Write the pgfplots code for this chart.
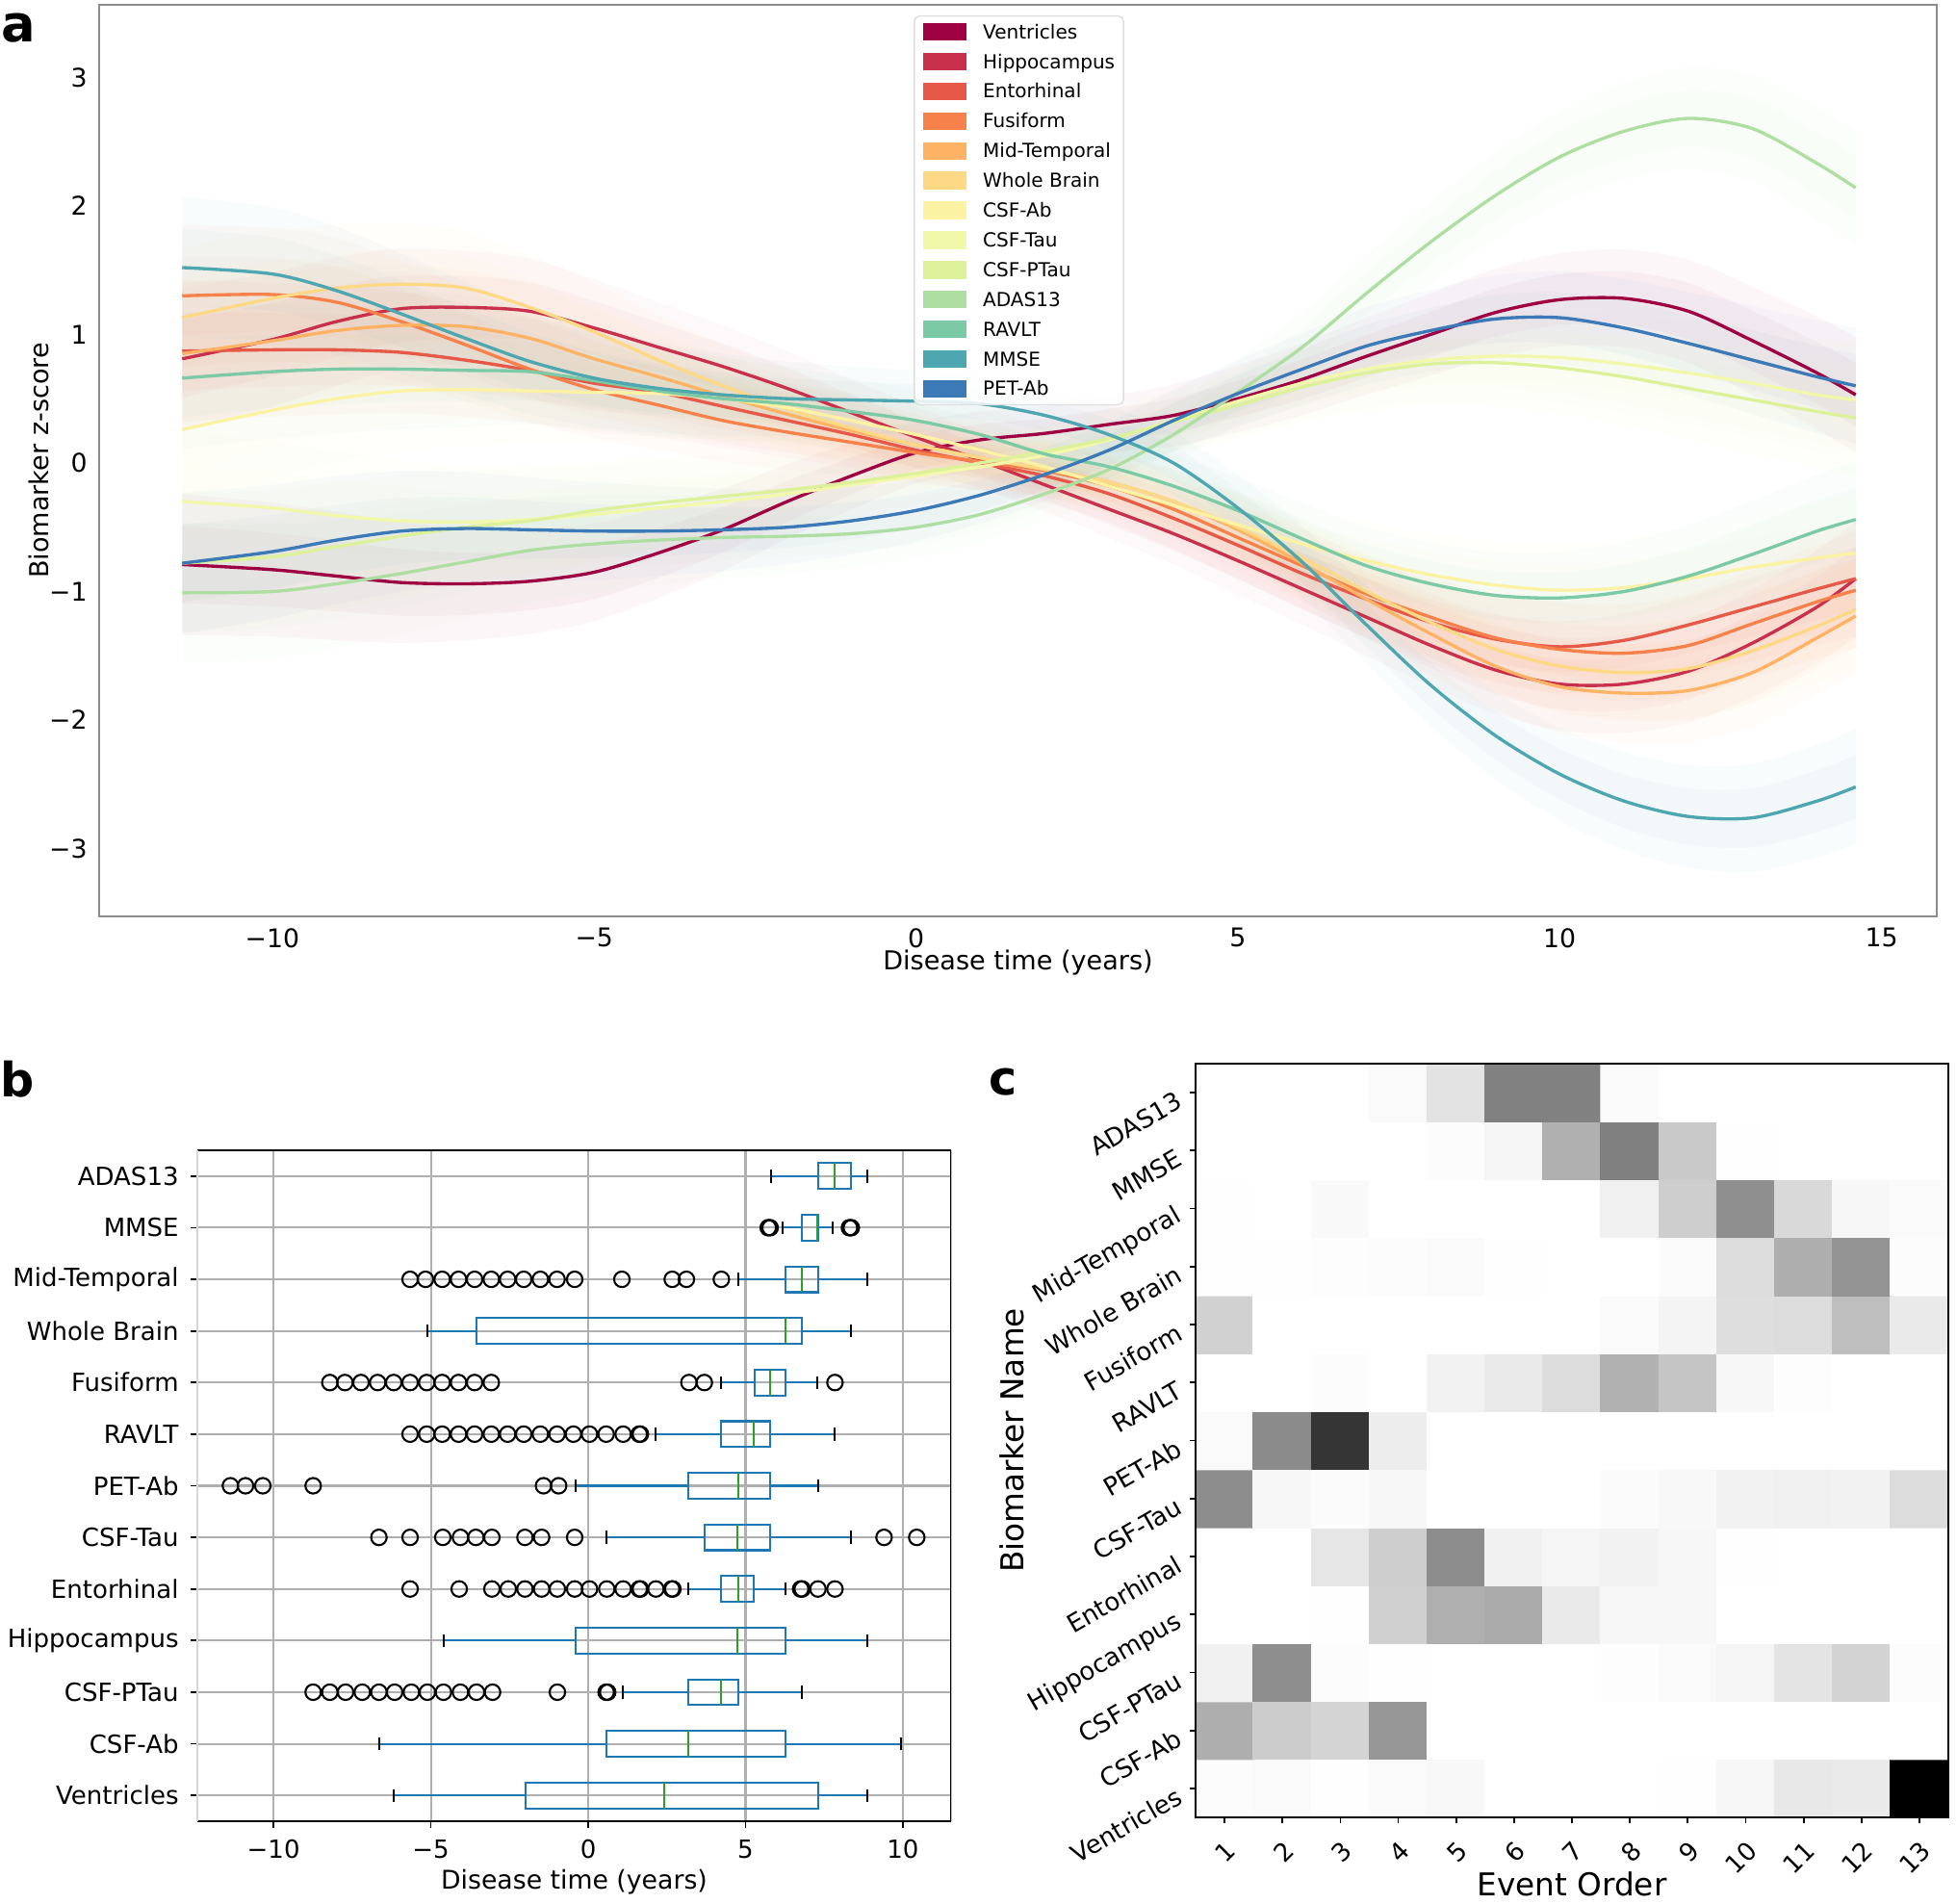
\documentclass[border=0pt]{standalone}
\usepackage{fontspec}
\setmainfont{DejaVu Sans}
\usepackage{pgfplots}
\pgfplotsset{compat=1.18}
\usepackage{pgfplotstable}
\usepgfplotslibrary{fillbetween,statistics}

\definecolor{cVen}{HTML}{9E0142}
\definecolor{cHip}{HTML}{C8304C}
\definecolor{cEnt}{HTML}{E65848}
\definecolor{cFus}{HTML}{F6814A}
\definecolor{cMid}{HTML}{FDB264}
\definecolor{cWhb}{HTML}{FED985}
\definecolor{cCab}{HTML}{FBF2A4}
\definecolor{cTau}{HTML}{F2F8AA}
\definecolor{cPta}{HTML}{DDF19A}
\definecolor{cAda}{HTML}{AFDEA3}
\definecolor{cRav}{HTML}{7BCAA5}
\definecolor{cMms}{HTML}{4EA6B0}
\definecolor{cPet}{HTML}{3C79B7}
\definecolor{bpblue}{HTML}{1F77B4}
\definecolor{bpgreen}{HTML}{2CA02C}
\definecolor{gridgray}{HTML}{B0B0B0}

\pgfplotstableread{
x w ven hip ent fus mid whb cab ctau cptau adas rav mmse pet
-11.4 0.55 -0.79 0.81 0.87 1.30 0.85 1.13 0.26 -0.30 -0.78 -1.01 0.66 1.52 -0.78
-10 0.52 -0.83 0.96 0.88 1.31 0.95 1.28 0.41 -0.35 -0.73 -1.00 0.71 1.47 -0.69
-9 0.50 -0.88 1.10 0.88 1.25 1.03 1.36 0.50 -0.41 -0.65 -0.94 0.73 1.34 -0.60
-8 0.47 -0.93 1.20 0.86 1.10 1.07 1.39 0.56 -0.45 -0.57 -0.86 0.73 1.16 -0.53
-7 0.44 -0.94 1.21 0.80 0.92 1.06 1.36 0.57 -0.46 -0.50 -0.77 0.72 0.97 -0.51
-6 0.41 -0.92 1.18 0.72 0.73 0.97 1.21 0.56 -0.44 -0.45 -0.68 0.71 0.79 -0.52
-5 0.38 -0.85 1.05 0.62 0.57 0.81 1.02 0.55 -0.40 -0.37 -0.63 0.64 0.66 -0.53
-4 0.35 -0.70 0.90 0.55 0.45 0.67 0.80 0.54 -0.35 -0.31 -0.60 0.56 0.58 -0.53
-3 0.32 -0.52 0.75 0.44 0.33 0.52 0.60 0.50 -0.30 -0.26 -0.58 0.50 0.53 -0.52
-2 0.29 -0.30 0.58 0.33 0.24 0.38 0.42 0.43 -0.24 -0.21 -0.57 0.46 0.50 -0.50
-1 0.26 -0.10 0.39 0.22 0.16 0.25 0.27 0.33 -0.17 -0.15 -0.55 0.40 0.49 -0.45
0 0.24 0.08 0.20 0.10 0.08 0.14 0.14 0.22 -0.10 -0.08 -0.50 0.33 0.48 -0.37
1 0.22 0.18 0.02 0.00 0.01 0.04 0.04 0.10 -0.03 0.00 -0.40 0.22 0.46 -0.25
2 0.21 0.23 -0.17 -0.10 -0.06 -0.05 -0.05 -0.03 0.06 0.09 -0.24 0.07 0.37 -0.09
3 0.22 0.30 -0.36 -0.24 -0.18 -0.15 -0.15 -0.18 0.18 0.19 -0.05 -0.03 0.22 0.10
4 0.24 0.37 -0.55 -0.43 -0.36 -0.30 -0.30 -0.33 0.33 0.32 0.22 -0.18 0.00 0.33
5 0.26 0.50 -0.76 -0.64 -0.58 -0.52 -0.50 -0.48 0.48 0.45 0.55 -0.37 -0.35 0.54
6 0.28 0.65 -0.98 -0.86 -0.80 -0.78 -0.74 -0.63 0.62 0.59 0.90 -0.59 -0.77 0.73
7 0.30 0.83 -1.20 -1.06 -1.02 -1.06 -1.00 -0.76 0.73 0.70 1.32 -0.80 -1.26 0.91
8 0.32 1.00 -1.42 -1.24 -1.20 -1.33 -1.24 -0.87 0.80 0.77 1.72 -0.94 -1.73 1.03
9 0.34 1.17 -1.61 -1.37 -1.36 -1.58 -1.45 -0.95 0.83 0.78 2.08 -1.03 -2.12 1.12
10 0.36 1.27 -1.72 -1.43 -1.45 -1.74 -1.58 -0.99 0.82 0.74 2.38 -1.05 -2.42 1.13
11 0.38 1.28 -1.72 -1.38 -1.48 -1.79 -1.63 -0.97 0.77 0.67 2.58 -1.00 -2.63 1.05
12 0.40 1.18 -1.62 -1.26 -1.42 -1.77 -1.60 -0.90 0.70 0.58 2.68 -0.88 -2.75 0.93
13 0.42 0.95 -1.40 -1.12 -1.25 -1.63 -1.46 -0.81 0.62 0.49 2.60 -0.71 -2.76 0.80
14 0.44 0.70 -1.12 -0.98 -1.08 -1.36 -1.27 -0.74 0.53 0.40 2.33 -0.53 -2.63 0.67
14.6 0.45 0.53 -0.90 -0.90 -0.99 -1.19 -1.14 -0.70 0.49 0.35 2.14 -0.44 -2.52 0.60
}\tA

% faint spread of the posterior samples: an outer and an inner band per biomarker
\newcommand{\band}[2]{%
  \addplot[draw=none, smooth, name path=lo#1, forget plot] table[x=x, y expr=\thisrow{#1}-\thisrow{w}] {\tA};
  \addplot[draw=none, smooth, name path=hi#1, forget plot] table[x=x, y expr=\thisrow{#1}+\thisrow{w}] {\tA};
  \addplot[fill=#2, fill opacity=0.035, draw=none, forget plot] fill between[of=lo#1 and hi#1];
  \addplot[draw=none, smooth, name path=li#1, forget plot] table[x=x, y expr=\thisrow{#1}-0.55*\thisrow{w}] {\tA};
  \addplot[draw=none, smooth, name path=ui#1, forget plot] table[x=x, y expr=\thisrow{#1}+0.55*\thisrow{w}] {\tA};
  \addplot[fill=#2, fill opacity=0.04, draw=none, forget plot] fill between[of=li#1 and ui#1];
}
\newcommand{\meanline}[3]{%
  \addplot[#2, line width=0.95pt, smooth] table[x=x, y=#1] {\tA};
  \addlegendentry{#3}
}
\newcommand{\bp}[6]{%
  \addplot[bpblue, boxplot prepared={draw position=#1, lower whisker=#2, lower quartile=#3, median=#4, upper quartile=#5, upper whisker=#6}] coordinates {};
}

\begin{document}
\begin{tikzpicture}

% ---------------- panel a ----------------
\begin{axis}[
  at={(10.3mm,102.5mm)}, anchor=south west,
  scale only axis, width=190.9mm, height=94.7mm,
  xmin=-12.69, xmax=15.86, ymin=-3.527, ymax=3.564,
  xtick={-10,-5,0,5,10,15}, xticklabels={−10,−5,0,5,10,15},
  ytick={-3,-2,-1,0,1,2,3}, yticklabels={−3,−2,−1,0,1,2,3},
  major tick length=0pt,
  axis line style={draw=black!45, line width=0.5pt},
  tick label style={font=\fontsize{7.6}{9}\selectfont},
  xlabel={Disease time (years)}, ylabel={Biomarker z-score},
  every axis x label/.style={at={(axis description cs:0.5,-0.0504)}, anchor=center, font=\fontsize{7.7}{9}\selectfont},
  every axis y label/.style={at={(axis description cs:-0.033,0.5)}, anchor=center, rotate=90, font=\fontsize{7.7}{9}\selectfont},
  legend cell align=left,
  legend image code/.code={\fill[#1, fill opacity=1, sharp corners] (0mm,-0.75mm) rectangle (4.2mm,0.75mm);},
  legend style={
    at={(0.4432,0.9884)}, anchor=north west,
    draw={rgb,255:red,222;green,222;blue,222}, rounded corners=1.5pt,
    fill=white, fill opacity=0.85, text opacity=1,
    font=\fontsize{5.7}{6.8}\selectfont,
    inner xsep=0.9mm, inner ysep=0.45mm,
    row sep=0.69mm,
    nodes={inner sep=0pt, text height=1.9mm, text depth=0.5mm},
    /tikz/every odd column/.append style={column sep=1.7mm},
  },
]
\band{ven}{cVen}
\band{hip}{cHip}
\band{ent}{cEnt}
\band{fus}{cFus}
\band{mid}{cMid}
\band{whb}{cWhb}
\band{cab}{cCab}
\band{ctau}{cTau}
\band{cptau}{cPta}
\band{adas}{cAda}
\band{rav}{cRav}
\band{mmse}{cMms}
\band{pet}{cPet}
\meanline{ven}{cVen}{Ventricles}
\meanline{hip}{cHip}{Hippocampus}
\meanline{ent}{cEnt}{Entorhinal}
\meanline{fus}{cFus}{Fusiform}
\meanline{mid}{cMid}{Mid-Temporal}
\meanline{whb}{cWhb}{Whole Brain}
\meanline{cab}{cCab}{CSF-Ab}
\meanline{ctau}{cTau}{CSF-Tau}
\meanline{cptau}{cPta}{CSF-PTau}
\meanline{adas}{cAda}{ADAS13}
\meanline{rav}{cRav}{RAVLT}
\meanline{mmse}{cMms}{MMSE}
\meanline{pet}{cPet}{PET-Ab}
\end{axis}

% ---------------- panel b ----------------
\begin{axis}[
  at={(20.5mm,8.5mm)}, anchor=south west,
  scale only axis, width=78.3mm, height=69.7mm,
  xmin=-12.42, xmax=11.53, ymin=0.5, ymax=13.5,
  xtick={-10,-5,0,5,10}, xticklabels={−10,−5,0,5,10},
  ytick={1,2,...,13},
  yticklabels={Ventricles,CSF-Ab,CSF-PTau,Hippocampus,Entorhinal,CSF-Tau,PET-Ab,RAVLT,Fusiform,Whole Brain,Mid-Temporal,MMSE,ADAS13},
  xtick pos=bottom, ytick pos=left,
  tick align=outside, major tick length=0.7mm,
  tick style={black, line width=0.5pt},
  xmajorgrids, ymajorgrids,
  grid style={draw=gridgray, line width=0.6pt},
  separate axis lines,
  x axis line style={black, line width=0.7pt},
  y axis line style={draw={rgb,255:red,215;green,215;blue,215}, line width=0.5pt},
  tick label style={font=\fontsize{7.4}{9}\selectfont},
  xlabel={Disease time (years)},
  every axis x label/.style={at={(axis description cs:0.5,-0.0904)}, anchor=center, font=\fontsize{7.6}{9}\selectfont},
  boxplot/draw direction=x,
  boxplot/box extend=0.5,
  boxplot/whisker extend=0.25,
  boxplot/every box/.style={draw=bpblue, line width=0.6pt},
  boxplot/every median/.style={draw=bpgreen, line width=0.6pt},
  boxplot/every whisker/.style={draw=bpblue, line width=0.6pt},
  boxplot/draw/lower whisker/.code={%
    \draw[/pgfplots/boxplot/every whisker/.try]
      (boxplot box cs:\pgfplotsboxplotvalue{lower whisker},0.5) --
      (boxplot box cs:\pgfplotsboxplotvalue{lower quartile},0.5);
    \draw[black, line width=0.6pt]
      (boxplot whisker cs:\pgfplotsboxplotvalue{lower whisker},0) --
      (boxplot whisker cs:\pgfplotsboxplotvalue{lower whisker},1);
  },
  boxplot/draw/upper whisker/.code={%
    \draw[/pgfplots/boxplot/every whisker/.try]
      (boxplot box cs:\pgfplotsboxplotvalue{upper whisker},0.5) --
      (boxplot box cs:\pgfplotsboxplotvalue{upper quartile},0.5);
    \draw[black, line width=0.6pt]
      (boxplot whisker cs:\pgfplotsboxplotvalue{upper whisker},0) --
      (boxplot whisker cs:\pgfplotsboxplotvalue{upper whisker},1);
  },
]
\bp{1}{-6.18}{-1.99}{2.42}{7.32}{8.88}
\bp{2}{-6.65}{0.59}{3.18}{6.26}{9.93}
\bp{3}{1.11}{3.18}{4.23}{4.76}{6.79}
\bp{4}{-4.60}{-0.41}{4.74}{6.26}{8.88}
\bp{5}{3.18}{4.23}{4.76}{5.27}{6.26}
\bp{6}{0.59}{3.71}{4.74}{5.79}{8.35}
\bp{7}{-0.41}{3.18}{4.76}{5.79}{7.30}
\bp{8}{2.15}{4.23}{5.27}{5.79}{7.82}
\bp{9}{4.23}{5.29}{5.79}{6.26}{7.28}
\bp{10}{-5.11}{-3.55}{6.26}{6.79}{8.35}
\bp{11}{4.78}{6.26}{6.79}{7.30}{8.88}
\bp{12}{6.18}{6.79}{7.28}{7.32}{7.78}
\bp{13}{5.81}{7.32}{7.84}{8.35}{8.88}
\addplot[only marks, mark=o, mark size=2.3pt, black, line width=0.6pt] table {
x y
-8.74 3
-8.21 3
-7.71 3
-7.18 3
-6.65 3
-6.15 3
-5.62 3
-5.11 3
-4.60 3
-4.06 3
-3.55 3
-3.04 3
-0.98 3
0.57 3
0.62 3
-5.66 5
-4.10 5
-3.06 5
-2.54 5
-2.01 5
-1.48 5
-0.98 5
-0.43 5
0.04 5
0.59 5
1.11 5
1.62 5
1.66 5
2.15 5
2.65 5
2.69 5
6.75 5
6.80 5
7.30 5
7.84 5
-6.65 6
-5.66 6
-4.62 6
-4.06 6
-3.57 6
-3.06 6
-2.01 6
-1.48 6
-0.43 6
9.40 6
10.44 6
-11.37 7
-10.89 7
-10.34 7
-8.74 7
-1.42 7
-0.94 7
-5.66 8
-5.13 8
-4.64 8
-4.12 8
-3.61 8
-3.08 8
-2.56 8
-2.05 8
-1.52 8
-0.99 8
-0.47 8
0.04 8
0.57 8
1.11 8
1.62 8
1.66 8
-8.21 9
-7.73 9
-7.22 9
-6.69 9
-6.18 9
-5.66 9
-5.13 9
-4.64 9
-4.12 9
-3.61 9
-3.08 9
3.20 9
3.69 9
7.84 9
-5.66 11
-5.17 11
-4.64 11
-4.12 11
-3.61 11
-3.08 11
-2.56 11
-2.05 11
-1.52 11
-0.99 11
-0.43 11
1.07 11
2.67 11
3.12 11
4.23 11
5.72 12
5.78 12
8.30 12
8.36 12
};
\draw[black, line width=0.7pt] (rel axis cs:1,0) -- (rel axis cs:1,1);
\end{axis}

% ---------------- panel c ----------------
\begin{axis}[
  at={(124.2mm,8.9mm)}, anchor=south west,
  scale only axis, width=78.2mm, height=78.3mm,
  xmin=0.5, xmax=13.5, ymin=0.5, ymax=13.5,
  xtick={1,...,13}, xticklabels={1,2,3,4,5,6,7,8,9,10,11,12,13},
  ytick={1,...,13},
  yticklabels={Ventricles,CSF-Ab,CSF-PTau,Hippocampus,Entorhinal,CSF-Tau,PET-Ab,RAVLT,Fusiform,Whole Brain,Mid-Temporal,MMSE,ADAS13},
  xtick pos=bottom, ytick pos=left,
  tick align=outside, major tick length=0.6mm,
  tick style={black, line width=0.5pt},
  axis line style={black, line width=0.5pt},
  tick label style={font=\fontsize{7.4}{9}\selectfont},
  xticklabel style={rotate=45, anchor=north east},
  yticklabel style={rotate=30, anchor=east},
  colormap={bw}{gray(0cm)=(0); gray(1cm)=(1)},
  point meta min=0, point meta max=255,
  xlabel={Event Order}, ylabel={Biomarker Name},
  every axis x label/.style={at={(axis description cs:0.5,-0.0881)}, anchor=center, font=\fontsize{9.3}{11}\selectfont},
  every axis y label/.style={at={(axis description cs:-0.2445,0.5)}, anchor=center, rotate=90, font=\fontsize{9.3}{11}\selectfont},
  axis on top,
]
\addplot[matrix plot*, mesh/cols=13, point meta=explicit] table[meta=c] {
x y c
1 1 250
2 1 248
3 1 252
4 1 248
5 1 246
6 1 255
7 1 255
8 1 253
9 1 252
10 1 245
11 1 230
12 1 232
13 1 0
1 2 173
2 2 203
3 2 211
4 2 149
5 2 255
6 2 255
7 2 255
8 2 255
9 2 255
10 2 255
11 2 255
12 2 255
13 2 255
1 3 238
2 3 141
3 3 250
4 3 252
5 3 255
6 3 255
7 3 255
8 3 251
9 3 248
10 3 243
11 3 226
12 3 210
13 3 250
1 4 255
2 4 255
3 4 252
4 4 207
5 4 174
6 4 169
7 4 232
8 4 245
9 4 245
10 4 255
11 4 255
12 4 255
13 4 255
1 5 255
2 5 255
3 5 228
4 5 205
5 5 139
6 5 238
7 5 243
8 5 240
9 5 245
10 5 252
11 5 255
12 5 254
13 5 255
1 6 140
2 6 245
3 6 249
4 6 245
5 6 254
6 6 255
7 6 253
8 6 249
9 6 246
10 6 240
11 6 238
12 6 240
13 6 218
1 7 248
2 7 138
3 7 53
4 7 235
5 7 253
6 7 255
7 7 255
8 7 255
9 7 255
10 7 255
11 7 255
12 7 255
13 7 255
1 8 255
2 8 255
3 8 250
4 8 253
5 8 240
6 8 232
7 8 218
8 8 176
9 8 196
10 8 245
11 8 251
12 8 255
13 8 255
1 9 208
2 9 254
3 9 255
4 9 255
5 9 255
6 9 255
7 9 255
8 9 248
9 9 242
10 9 220
11 9 218
12 9 189
13 9 232
1 10 252
2 10 252
3 10 251
4 10 250
5 10 248
6 10 252
7 10 255
8 10 255
9 10 249
10 10 218
11 10 173
12 10 147
13 10 250
1 11 252
2 11 255
3 11 247
4 11 254
5 11 254
6 11 255
7 11 255
8 11 238
9 11 205
10 11 142
11 11 215
12 11 245
13 11 248
1 12 255
2 12 255
3 12 255
4 12 255
5 12 250
6 12 243
7 12 175
8 12 127
9 12 200
10 12 252
11 12 255
12 12 255
13 12 255
1 13 255
2 13 255
3 13 255
4 13 248
5 13 225
6 13 128
7 13 128
8 13 248
9 13 255
10 13 255
11 13 255
12 13 255
13 13 255
};
\end{axis}

\node[font=\fontsize{15}{15}\bfseries\selectfont] at (1.94mm,194.8mm) {a};
\node[font=\fontsize{14}{14}\bfseries\selectfont] at (1.8mm,85.6mm) {b};
\node[font=\fontsize{14}{14}\bfseries\selectfont] at (104.2mm,85.3mm) {c};
\pgfresetboundingbox
\path[use as bounding box] (0,0) rectangle (203.3mm,197.7mm);
\end{tikzpicture}
\end{document}
